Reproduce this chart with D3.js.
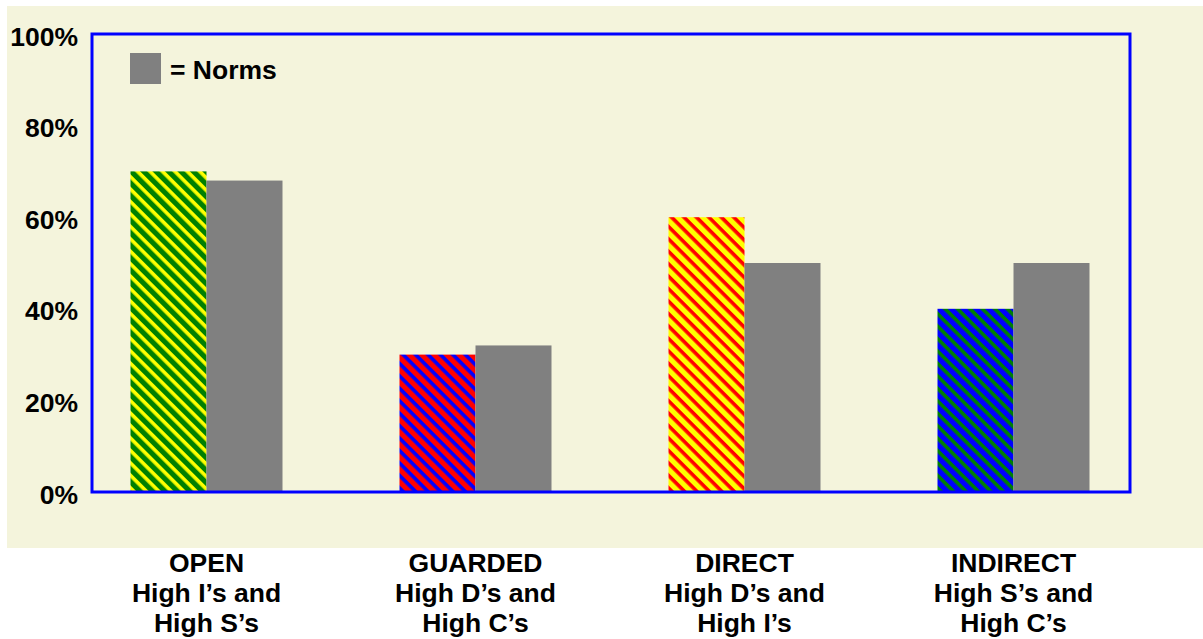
<!DOCTYPE html>
<html>
<head>
<meta charset="utf-8">
<script src="https://cdn.jsdelivr.net/npm/d3@7"></script>
<style>
  html, body { margin: 0; padding: 0; background: #ffffff; }
  svg { display: block; }
  text { font-family: "Liberation Sans", Arial, sans-serif; font-weight: bold; fill: #000; }
</style>
</head>
<body>
<svg id="chart" width="1203" height="639"></svg>
<script>
// Communication styles vs. norms
const categories = ["OPEN", "GUARDED", "DIRECT", "INDIRECT"];
const subLabels = [
  ["High I\u2019s and", "High S\u2019s"],
  ["High D\u2019s and", "High C\u2019s"],
  ["High D\u2019s and", "High I\u2019s"],
  ["High S\u2019s and", "High C\u2019s"]
];
const styleValues = [0.70, 0.30, 0.60, 0.40];
const normValues = [0.68, 0.32, 0.50, 0.50];
const baseColors = ["#008000", "#ff0000", "#ffff00", "#0000ff"];
const stripeColors = ["#ffff00", "#0000ff", "#ff0000", "#008000"];
const yTicks = [0, 0.2, 0.4, 0.6, 0.8, 1.0];
const legendLabel = "= Norms";

const svg = d3.select("#chart");

// panel background
svg.append("rect")
  .attr("x", 7).attr("y", 6)
  .attr("width", 1196).attr("height", 542)
  .attr("fill", "#f4f4dc");

const plot = { left: 92, top: 34, right: 1130, bottom: 492 };

const y = d3.scaleLinear().domain([0, 1]).range([plot.bottom, plot.top]);
const x = d3.scaleBand().domain(categories)
  .range([72, 1148]).paddingInner(0.435).paddingOuter(0.2175);
const sub = d3.scaleBand().domain(["style", "norm"]).range([0, x.bandwidth()]);

// diagonal stripe fills
const defs = svg.append("defs");
categories.forEach((c, i) => {
  const p = defs.append("pattern")
    .attr("id", "stripe" + i)
    .attr("patternUnits", "userSpaceOnUse")
    .attr("width", 8.8).attr("height", 8.8)
    .attr("patternTransform", "rotate(45)");
  p.append("rect").attr("width", 8.8).attr("height", 8.8).attr("fill", baseColors[i]);
  p.append("rect").attr("width", 8.8).attr("height", 3.6).attr("fill", stripeColors[i]);
});

// bars
const groups = svg.append("g").selectAll("g")
  .data(categories)
  .join("g")
  .attr("transform", d => `translate(${x(d)},0)`);

groups.append("rect")
  .attr("x", sub("style"))
  .attr("width", sub.bandwidth())
  .attr("y", (d, i) => y(styleValues[i]))
  .attr("height", (d, i) => y(0) - y(styleValues[i]))
  .attr("fill", (d, i) => `url(#stripe${i})`);

groups.append("rect")
  .attr("x", sub("norm"))
  .attr("width", sub.bandwidth())
  .attr("y", (d, i) => y(normValues[i]))
  .attr("height", (d, i) => y(0) - y(normValues[i]))
  .attr("fill", "#808080");

// plot frame
svg.append("rect")
  .attr("x", plot.left).attr("y", plot.top)
  .attr("width", plot.right - plot.left)
  .attr("height", plot.bottom - plot.top)
  .attr("fill", "none")
  .attr("stroke", "#0000ff")
  .attr("stroke-width", 3);

// y axis labels
const yAxis = d3.axisLeft(y)
  .tickValues(yTicks)
  .tickFormat(d3.format(".0%"))
  .tickSize(0)
  .tickPadding(14);
const ya = svg.append("g")
  .attr("transform", `translate(${plot.left},0)`)
  .call(yAxis);
ya.select(".domain").remove();
ya.selectAll("text")
  .attr("dy", "0.42em")
  .style("font-size", "26.5px")
  .style("font-family", "'Liberation Sans', Arial, sans-serif")
  .style("font-weight", "bold")
  .attr("fill", "#000");

// legend
svg.append("rect")
  .attr("x", 130).attr("y", 53)
  .attr("width", 31).attr("height", 31)
  .attr("fill", "#808080");
svg.append("text")
  .attr("x", 170).attr("y", 79)
  .style("font-size", "26.5px")
  .text(legendLabel);

// category labels
const labels = svg.append("g").selectAll("text")
  .data(categories)
  .join("text")
  .attr("text-anchor", "middle")
  .attr("transform", d => `translate(${x(d) + x.bandwidth() / 2},0)`)
  .style("font-size", "26.5px");

labels.each(function(d, i) {
  const t = d3.select(this);
  [d].concat(subLabels[i]).forEach((line, k) => {
    t.append("tspan").attr("x", 0).attr("y", 572 + k * 30).text(line);
  });
});
</script>
</body>
</html>
